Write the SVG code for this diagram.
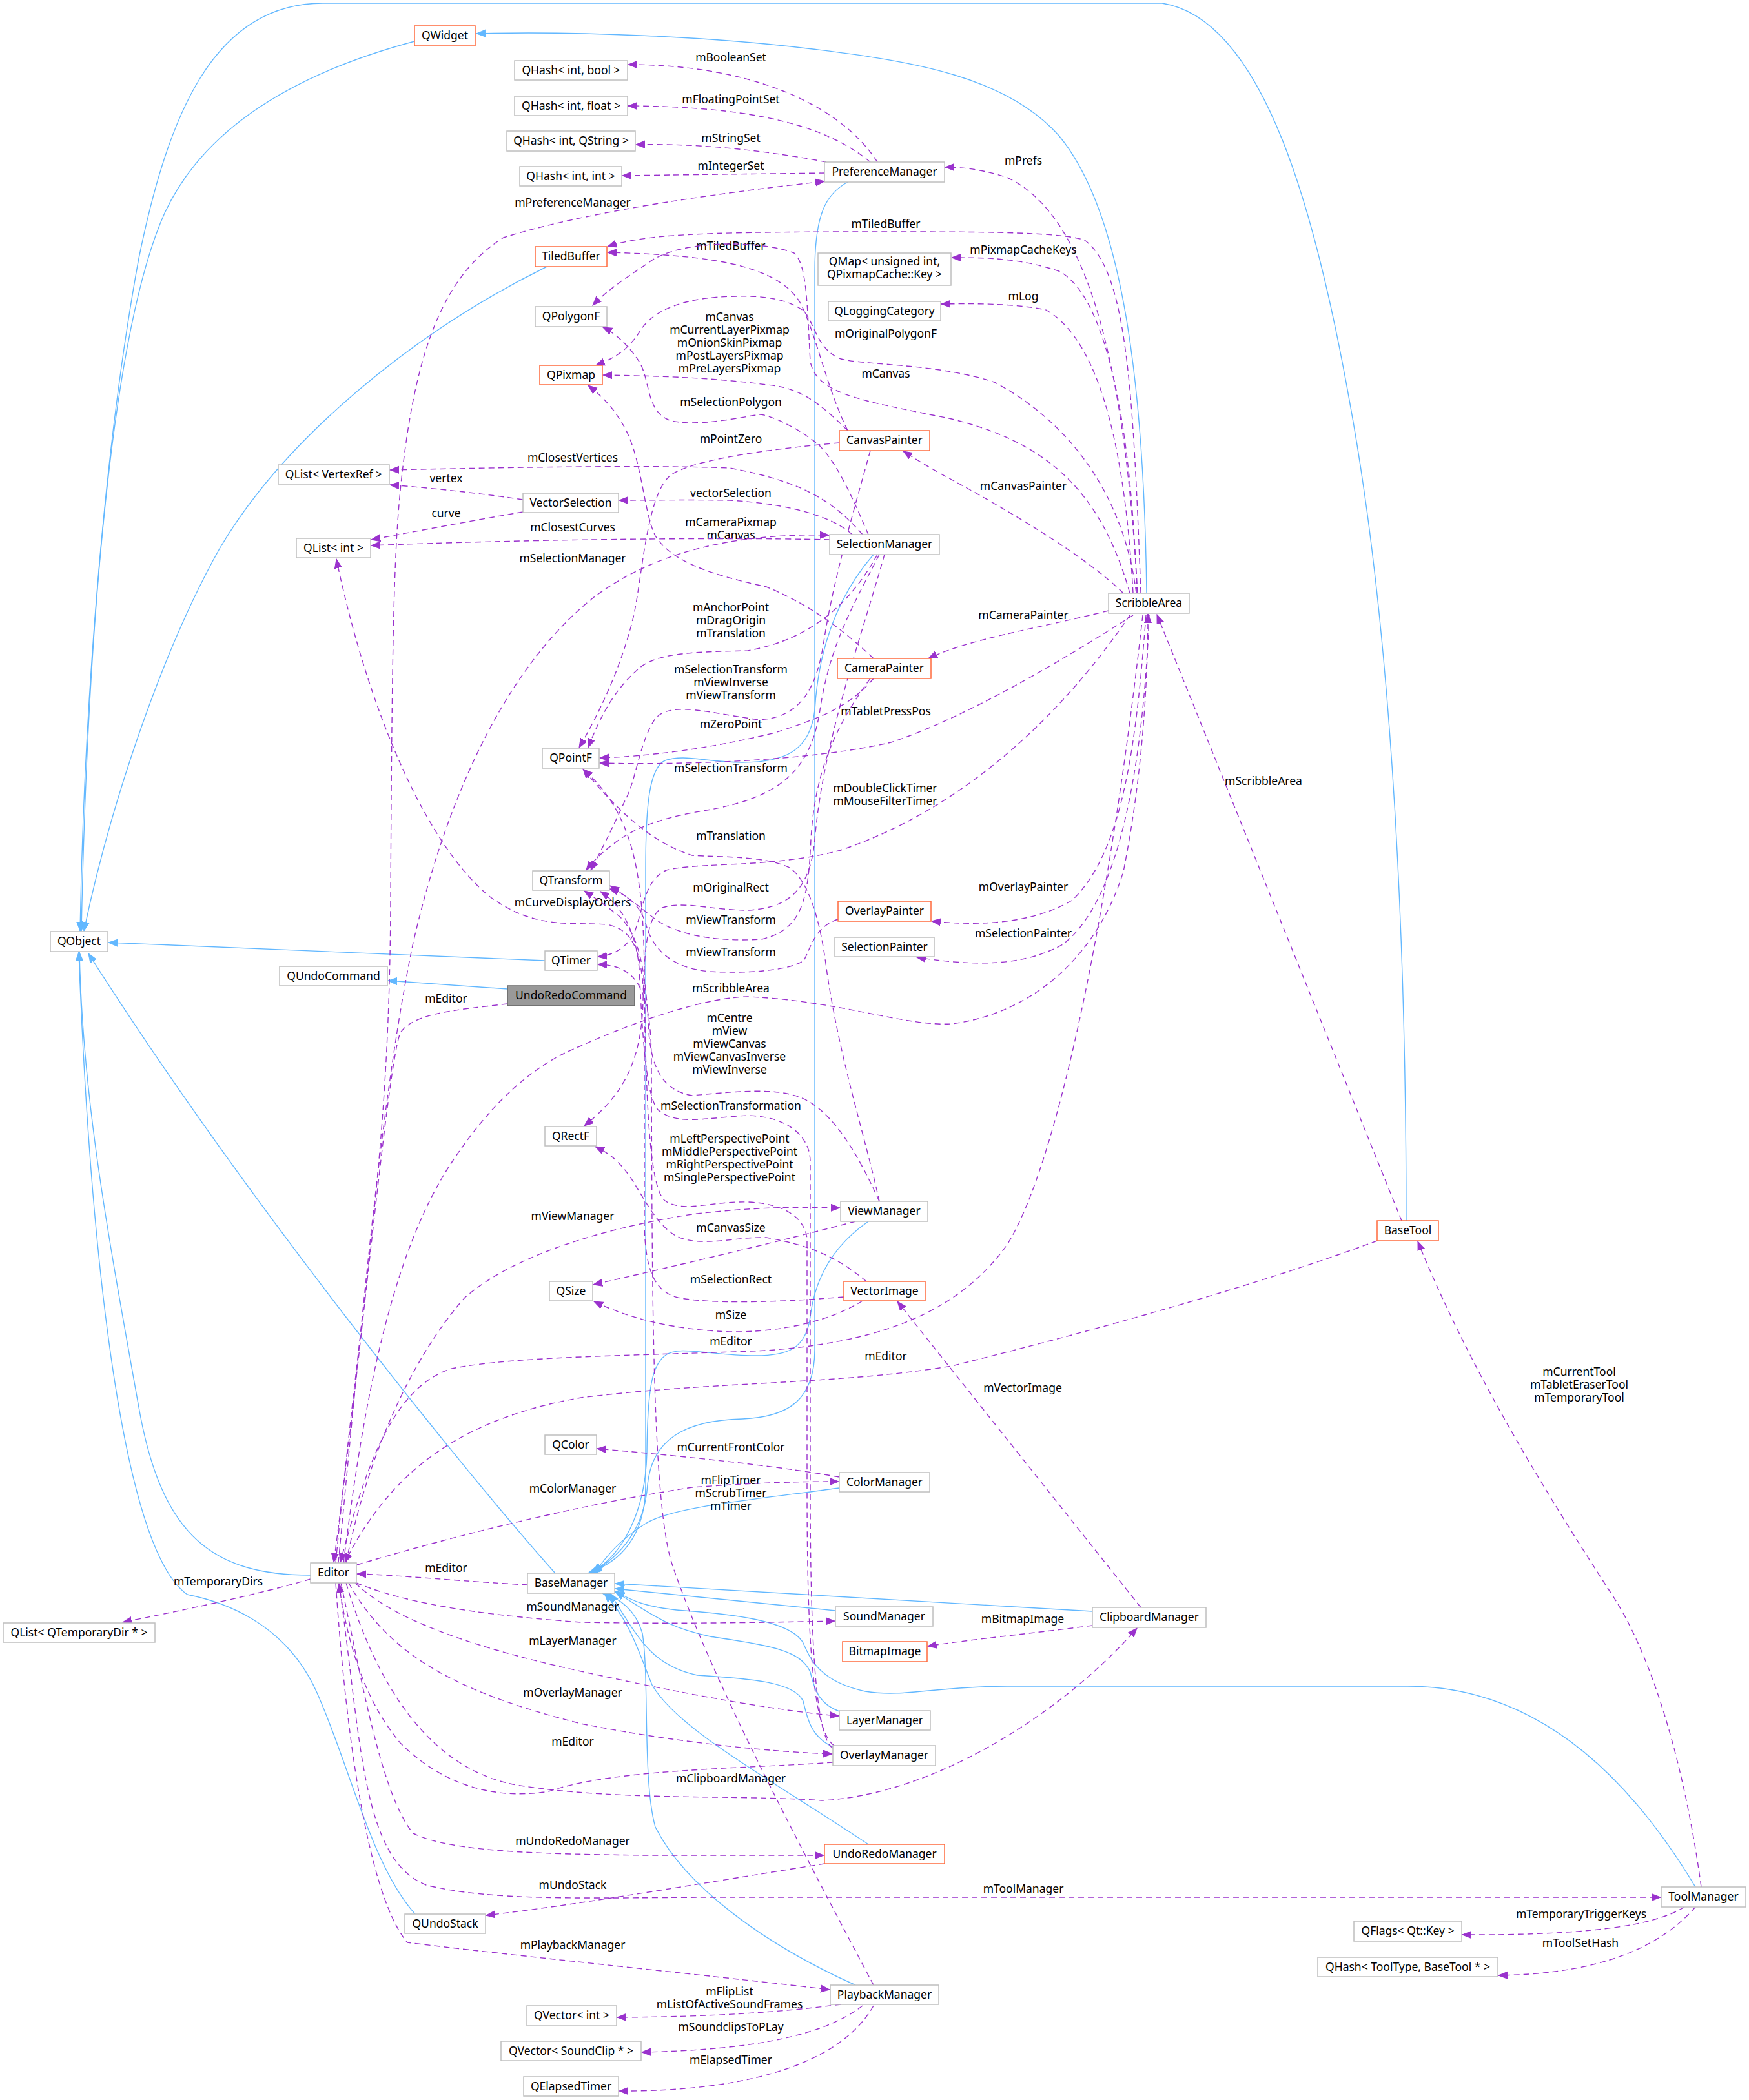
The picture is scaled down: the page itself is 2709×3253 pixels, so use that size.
<svg xmlns="http://www.w3.org/2000/svg" width="2709" height="3253" viewBox="0 0 2709 3253">
<style>
text{font-family:"Noto Sans","Liberation Sans",sans-serif;font-size:17.5px;fill:#000;text-anchor:middle}
.n rect{fill:#fff;stroke:#bfbfbf;stroke-width:1.5}
.n.t rect{stroke:#ff6a3d}
.n.m rect{fill:#999;stroke:#666}
.inh{fill:none;stroke:#63b8ff;stroke-width:1.4;marker-end:url(#ab)}
.use{fill:none;stroke:#9a32cd;stroke-width:1.4;stroke-dasharray:9,6;marker-end:url(#ap)}
</style>
<defs>
<marker id="ab" markerUnits="userSpaceOnUse" markerWidth="16" markerHeight="13" refX="14" refY="6" orient="auto"><path d="M0,0.5 L14,6 L0,11.5 z" fill="#63b8ff" stroke="#63b8ff" stroke-dasharray="none"/></marker>
<marker id="ap" markerUnits="userSpaceOnUse" markerWidth="16" markerHeight="13" refX="14" refY="6" orient="auto"><path d="M0,0.5 L14,6 L0,11.5 z" fill="#9a32cd" stroke="#9a32cd" stroke-dasharray="none"/></marker>
</defs>
<rect width="2709" height="3253" fill="#fff"/>
<g id="edges">
<!-- inheritance -->
<path class="inh" d="M642,64 C470,110 320,190 255,330 C170,520 135,1000 126,1442"/>
<path class="inh" d="M2178,1891 C2178,1500 2160,1000 2090,620 C2040,340 1960,30 1800,5 L500,5 C330,5 260,180 215,400 C160,700 130,1100 124,1442"/>
<path class="inh" d="M1776,919 C1772,600 1740,330 1640,210 C1560,120 1420,95 1250,75 C1100,57 900,48 738,52"/>
<path class="inh" d="M847,413 C640,515 440,680 340,850 C250,1010 170,1250 130,1442"/>
<path class="inh" d="M844,1488 L168,1460"/>
<path class="inh" d="M786,1532 L601,1519"/>
<path class="inh" d="M481,2440 C330,2440 250,2380 215,2180 C165,1900 128,1700 123,1475"/>
<path class="inh" d="M643,2965 C575,2890 540,2730 490,2620 C440,2510 340,2480 290,2470 C190,2400 140,1950 122,1475"/>
<path class="inh" d="M860,2437 C720,2280 380,1860 137,1477"/>
<path class="inh" d="M1313,282 C1280,300 1262,330 1262,420 L1262,2090 C1262,2170 1220,2195 1150,2198 C1060,2200 1010,2230 1003,2300 C998,2370 960,2410 918,2436"/>
<path class="inh" d="M1353,859 C1300,920 1268,1000 1262,1100 C1255,1160 1220,1181 1150,1181 C1090,1180 1060,1168 1030,1178 C1005,1190 1000,1250 1000,1350 L1000,2300 C1000,2380 960,2420 912,2436"/>
<path class="inh" d="M1345,1892 C1290,1930 1262,1980 1255,2040 C1248,2090 1220,2100 1170,2100 C1100,2100 1050,2083 1030,2100 C1010,2115 1003,2150 1002,2250 C1000,2340 965,2410 915,2436"/>
<path class="inh" d="M1300,2305 C1150,2325 1040,2335 1000,2360 C960,2385 940,2410 921,2436"/>
<path class="inh" d="M1294,2495 L953,2461"/>
<path class="inh" d="M1692,2496 L953,2453"/>
<path class="inh" d="M1300,2651 C1270,2640 1262,2620 1255,2590 C1240,2555 1190,2549 1100,2535 C1030,2520 1010,2500 953,2466"/>
<path class="inh" d="M1290,2706 C1255,2690 1250,2660 1244,2635 C1230,2605 1160,2600 1080,2595 C1010,2580 990,2540 945,2468"/>
<path class="inh" d="M2626,2923 C2540,2780 2400,2612 2180,2612 L1560,2612 C1450,2612 1400,2630 1340,2620 C1270,2605 1255,2570 1244,2545 C1225,2510 1130,2500 1060,2495 C1000,2490 980,2480 953,2465"/>
<path class="inh" d="M1345,2857 C1200,2760 1050,2680 1010,2610 C990,2560 975,2510 936,2468"/>
<path class="inh" d="M1325,3075 C1180,3010 1060,2920 1015,2830 C995,2760 1006,2600 995,2530 C985,2495 960,2475 933,2468"/>
<!-- usage -->
<g id="e_mBooleanSet"><path class="use" d="M1359,251 C1300,160 1160,100 973,100"/><text x="1132" y="95">mBooleanSet</text></g>
<g id="e_mFloatingPointSet"><path class="use" d="M1348,251 C1280,195 1170,165 973,164"/><text x="1132" y="160">mFloatingPointSet</text></g>
<g id="e_mStringSet"><path class="use" d="M1280,251 C1180,232 1080,222 985,224"/><text x="1132" y="220">mStringSet</text></g>
<g id="e_mIntegerSet"><path class="use" d="M1277,268 L964,272"/><text x="1132" y="263">mIntegerSet</text></g>
<g id="e_mPreferenceManager"><path class="use" d="M520,2421 C560,2000 603,1800 605,1400 C607,1000 610,860 620,760 C640,560 680,430 780,368 C900,330 1100,300 1277,281"/><text x="887" y="320">mPreferenceManager</text></g>
<g id="e_mPrefs"><path class="use" d="M1762,919 C1745,620 1700,340 1560,275 C1520,262 1490,259 1464,259"/><text x="1585" y="255">mPrefs</text></g>
<g id="e_mTiledBuffer1"><path class="use" d="M1767,919 C1755,600 1745,420 1680,372 C1640,358 1500,359 1300,359 C1100,360 1000,362 941,382"/><text x="1372" y="353">mTiledBuffer</text></g>
<g id="e_mTiledBuffer2"><path class="use" d="M1313,667 C1280,600 1265,520 1240,470 C1205,410 1100,395 941,391"/><text x="1132" y="387">mTiledBuffer</text></g>
<g id="e_mPixmapCacheKeys"><path class="use" d="M1761,919 C1750,600 1700,450 1640,420 C1580,400 1530,399 1474,399"/><text x="1585" y="393">mPixmapCacheKeys</text></g>
<g id="e_mLog"><path class="use" d="M1755,919 C1740,650 1690,520 1620,480 C1570,470 1510,470 1458,471"/><text x="1585" y="465">mLog</text></g>
<g id="e_mOriginalPolygonF"><path class="use" d="M1750,919 C1700,740 1600,680 1470,648 C1330,620 1265,610 1255,560 C1250,470 1250,410 1230,392 C1180,372 1050,370 1003,408 C970,430 940,450 918,473"/><text x="1372" y="523">mOriginalPolygonF</text></g>
<g id="e_mCanvasSA"><path class="use" d="M1760,919 C1740,760 1650,650 1540,592 C1450,562 1330,566 1300,555 C1265,540 1262,500 1244,481 C1215,460 1170,458 1141,459 C1060,460 1010,480 990,515 C970,545 950,555 923,566"/><text x="1372" y="585">mCanvas</text></g>
<g id="e_mCanvasCP"><path class="use" d="M1313,667 C1270,625 1240,600 1187,596 C1100,584 1000,582 934,581"/><text x="1130" y="497">mCanvas</text><text x="1130" y="517">mCurrentLayerPixmap</text><text x="1130" y="537">mOnionSkinPixmap</text><text x="1130" y="557">mPostLayersPixmap</text><text x="1130" y="577">mPreLayersPixmap</text></g>
<g id="e_mSelectionPolygon"><path class="use" d="M1345,828 C1320,770 1290,700 1256,680 C1230,660 1190,642 1176,642 C1130,650 1080,660 1040,652 C1000,640 1008,590 990,560 C970,530 950,515 934,507"/><text x="1132" y="629">mSelectionPolygon</text></g>
<g id="e_mPointZero"><path class="use" d="M1300,686 C1200,695 1080,710 1040,735 C1000,765 995,900 980,960 C960,1040 925,1110 897,1158"/><text x="1132" y="686">mPointZero</text></g>
<g id="e_mCanvasPainter"><path class="use" d="M1740,919 C1680,860 1560,790 1474,743 C1440,725 1420,712 1399,699"/><text x="1585" y="759">mCanvasPainter</text></g>
<g id="e_mClosestVertices"><path class="use" d="M1336,828 C1290,775 1240,745 1130,725 C1000,720 800,724 604,728"/><text x="887" y="715">mClosestVertices</text></g>
<g id="e_vectorSelection"><path class="use" d="M1320,828 C1290,800 1220,780 1130,775 C1060,774 1000,775 959,775"/><text x="1132" y="770">vectorSelection</text></g>
<g id="e_vertex"><path class="use" d="M810,774 C750,765 680,757 604,751"/><text x="691" y="747">vertex</text></g>
<g id="e_curve"><path class="use" d="M810,793 C740,805 660,820 575,836"/><text x="691" y="801">curve</text></g>
<g id="e_mCameraPixmap"><path class="use" d="M1353,1020 C1300,970 1250,935 1187,909 C1100,890 1040,870 1015,830 C995,790 995,700 960,650 C945,625 925,608 911,597"/><text x="1132" y="815">mCameraPixmap</text><text x="1132" y="835">mCanvas</text></g>
<g id="e_mClosestCurves"><path class="use" d="M1285,836 C1100,832 800,836 575,845"/><text x="887" y="823">mClosestCurves</text></g>
<g id="e_mSelectionManager"><path class="use" d="M524,2421 C560,2050 590,1700 640,1460 C700,1200 800,1020 920,925 C1020,850 1150,826 1284,829"/><text x="887" y="871">mSelectionManager</text></g>
<g id="e_mAnchorPoint"><path class="use" d="M1359,859 C1320,930 1260,990 1158,1008 C1080,1010 1020,1010 990,1035 C950,1070 930,1110 911,1158"/><text x="1132" y="947">mAnchorPoint</text><text x="1132" y="967">mDragOrigin</text><text x="1132" y="987">mTranslation</text></g>
<g id="e_mCameraPainter"><path class="use" d="M1717,946 C1600,975 1500,990 1438,1020"/><text x="1585" y="959">mCameraPainter</text></g>
<g id="e_mSelectionTransformCP"><path class="use" d="M1348,698 C1320,800 1290,900 1275,1000 C1262,1080 1230,1112 1176,1115 C1100,1105 1040,1085 1015,1113 C990,1150 985,1210 969,1238 C950,1280 930,1320 915,1348"/><text x="1132" y="1043">mSelectionTransform</text><text x="1132" y="1063">mViewInverse</text><text x="1132" y="1083">mViewTransform</text></g>
<g id="e_mTabletPressPos"><path class="use" d="M1755,953 C1650,1020 1500,1110 1380,1150 C1250,1180 1050,1185 929,1182"/><text x="1372" y="1108">mTabletPressPos</text></g>
<g id="e_mZeroPoint"><path class="use" d="M1353,1051 C1320,1090 1280,1110 1200,1135 C1100,1160 1000,1172 929,1174"/><text x="1132" y="1128">mZeroPoint</text></g>
<g id="e_mSelectionTransformSM"><path class="use" d="M1362,859 C1320,940 1285,1000 1270,1100 C1255,1200 1200,1235 1101,1254 C1030,1265 990,1280 960,1300 C935,1318 920,1332 908,1348"/><text x="1132" y="1196">mSelectionTransform</text></g>
<g id="e_mScribbleAreaBT"><path class="use" d="M2171,1891 L1792,952"/><text x="1957" y="1216">mScribbleArea</text></g>
<g id="e_mDoubleClickTimer"><path class="use" d="M1750,953 C1650,1100 1500,1250 1302,1317 C1200,1345 1080,1335 1032,1348 C995,1365 995,1420 980,1450 C965,1472 947,1480 926,1482"/><text x="1371" y="1227">mDoubleClickTimer</text><text x="1371" y="1247">mMouseFilterTimer</text></g>
<g id="e_mTranslationVM"><path class="use" d="M1362,1861 C1340,1760 1300,1640 1280,1500 C1270,1420 1250,1360 1221,1343 C1180,1325 1110,1328 1072,1325 C1010,1305 960,1260 903,1191"/><text x="1132" y="1301">mTranslation</text></g>
<g id="e_mOverlayPainter"><path class="use" d="M1775,953 C1760,1150 1740,1320 1660,1395 C1600,1430 1520,1435 1443,1427"/><text x="1585" y="1380">mOverlayPainter</text></g>
<g id="e_mOriginalRect"><path class="use" d="M1370,859 C1330,1000 1275,1150 1262,1300 C1255,1380 1220,1406 1160,1410 C1100,1410 1060,1395 1026,1406 C1000,1420 998,1480 996,1550 C994,1650 960,1700 905,1744"/><text x="1132" y="1381">mOriginalRect</text></g>
<g id="e_mCurveDisplayOrders"><path class="use" d="M1307,2009 C1200,2018 1100,2020 1050,2010 C1010,2000 1000,1960 998,1900 L998,1560 C995,1470 980,1440 940,1432 C880,1428 830,1440 760,1390 C660,1310 570,1100 521,866"/><text x="887" y="1404">mCurveDisplayOrders</text></g>
<g id="e_mViewTransformCam"><path class="use" d="M1348,1051 C1290,1130 1262,1200 1256,1300 C1252,1400 1240,1440 1180,1455 C1100,1460 1040,1445 1010,1420 C985,1400 965,1385 945,1372"/><text x="1132" y="1431">mViewTransform</text></g>
<g id="e_mSelectionPainter"><path class="use" d="M1780,953 C1770,1200 1730,1400 1646,1463 C1580,1500 1500,1495 1420,1483"/><text x="1585" y="1452">mSelectionPainter</text></g>
<g id="e_mViewTransformOP"><path class="use" d="M1298,1424 C1262,1435 1255,1470 1245,1488 C1220,1505 1150,1508 1100,1505 C1040,1500 1010,1470 1000,1430 C990,1400 970,1385 944,1377"/><text x="1132" y="1481">mViewTransform</text></g>
<g id="e_mScribbleAreaED"><path class="use" d="M532,2421 C560,2200 600,1950 700,1800 C780,1680 850,1640 900,1620 C1000,1575 1100,1545 1158,1544 C1300,1550 1400,1590 1474,1586 C1600,1570 1700,1480 1740,1350 C1770,1200 1778,1050 1778,951"/><text x="1132" y="1537">mScribbleArea</text></g>
<g id="e_mEditorURC"><path class="use" d="M786,1555 C700,1565 640,1570 620,1600 C600,1650 560,2100 517,2420"/><text x="691" y="1553">mEditor</text></g>
<g id="e_mCentre"><path class="use" d="M1362,1861 C1330,1790 1290,1720 1240,1700 C1200,1685 1150,1690 1072,1697 C1030,1690 1010,1660 1005,1600 C1000,1500 990,1450 960,1420 C935,1400 920,1390 905,1380"/><text x="1130" y="1583">mCentre</text><text x="1130" y="1603">mView</text><text x="1130" y="1623">mViewCanvas</text><text x="1130" y="1643">mViewCanvasInverse</text><text x="1130" y="1663">mViewInverse</text></g>
<g id="e_mSelectionTransformation"><path class="use" d="M1290,2708 C1260,2690 1255,2500 1255,2300 L1255,1800 C1255,1760 1220,1730 1160,1728 C1100,1730 1050,1745 1020,1720 C1000,1700 995,1600 990,1500 C985,1440 960,1400 930,1381"/><text x="1132" y="1719">mSelectionTransformation</text></g>
<g id="e_mPerspective"><path class="use" d="M1292,2704 C1255,2680 1250,2500 1250,2300 L1250,1920 C1248,1890 1220,1865 1160,1862 C1100,1860 1060,1880 1030,1860 C1005,1840 1000,1700 998,1500 C996,1350 980,1260 904,1192"/><text x="1130" y="1770">mLeftPerspectivePoint</text><text x="1130" y="1790">mMiddlePerspectivePoint</text><text x="1130" y="1810">mRightPerspectivePoint</text><text x="1130" y="1830">mSinglePerspectivePoint</text></g>
<g id="e_mViewManager"><path class="use" d="M536,2421 C570,2250 640,2100 720,2010 C800,1940 950,1900 1072,1881 C1180,1868 1250,1870 1301,1871"/><text x="887" y="1890">mViewManager</text></g>
<g id="e_mCanvasSize"><path class="use" d="M1325,1892 C1200,1925 1050,1960 919,1990"/><text x="1132" y="1908">mCanvasSize</text></g>
<g id="e_mSelectionRect"><path class="use" d="M1342,1985 C1300,1950 1260,1930 1187,1917 C1140,1915 1080,1935 1043,1912 C1010,1890 990,1840 970,1815 C955,1795 940,1785 922,1776"/><text x="1132" y="1988">mSelectionRect</text></g>
<g id="e_mSize"><path class="use" d="M1336,2015 C1280,2050 1200,2064 1130,2063 C1050,2060 980,2045 920,2016"/><text x="1132" y="2043">mSize</text></g>
<g id="e_mEditorSA"><path class="use" d="M1770,953 C1720,1400 1640,1800 1560,1928 C1480,2040 1350,2080 1187,2092 C1000,2100 800,2100 700,2120 C600,2150 560,2300 527,2420"/><text x="1132" y="2084">mEditor</text></g>
<g id="e_mEditorBT"><path class="use" d="M2133,1922 C1950,1990 1700,2060 1474,2116 C1300,2145 1100,2140 900,2165 C700,2200 600,2290 534,2420"/><text x="1372" y="2107">mEditor</text></g>
<g id="e_mCurrentTool"><path class="use" d="M2635,2923 C2610,2740 2560,2560 2490,2460 C2400,2320 2280,2130 2196,1923"/><text x="2446" y="2131">mCurrentTool</text><text x="2446" y="2151">mTabletEraserTool</text><text x="2446" y="2171">mTemporaryTool</text></g>
<g id="e_mVectorImage"><path class="use" d="M1767,2490 L1390,2016"/><text x="1584" y="2156">mVectorImage</text></g>
<g id="e_mCurrentFrontColor"><path class="use" d="M1300,2288 C1200,2270 1050,2255 925,2244"/><text x="1132" y="2248">mCurrentFrontColor</text></g>
<g id="e_mFlipTimer"><path class="use" d="M1353,3075 C1250,2880 1100,2600 1040,2420 C1010,2320 1010,2000 1009,1640 C1008,1530 985,1495 926,1494"/><text x="1132" y="2299">mFlipTimer</text><text x="1132" y="2319">mScrubTimer</text><text x="1132" y="2339">mTimer</text></g>
<g id="e_mColorManager"><path class="use" d="M553,2424 C700,2380 900,2330 1072,2304 C1180,2296 1250,2295 1299,2295"/><text x="887" y="2312">mColorManager</text></g>
<g id="e_mEditorBM"><path class="use" d="M817,2455 C720,2450 620,2440 553,2438"/><text x="691" y="2435">mEditor</text></g>
<g id="e_mTemporaryDirs"><path class="use" d="M481,2446 C400,2470 280,2495 190,2513"/><text x="338" y="2456">mTemporaryDirs</text></g>
<g id="e_mSoundManager"><path class="use" d="M552,2452 C620,2480 720,2500 900,2513 C1050,2516 1200,2513 1293,2511"/><text x="887" y="2495">mSoundManager</text></g>
<g id="e_mBitmapImage"><path class="use" d="M1692,2518 C1600,2530 1500,2540 1437,2550"/><text x="1584" y="2514">mBitmapImage</text></g>
<g id="e_mLayerManager"><path class="use" d="M550,2452 C600,2500 700,2545 900,2589 C1050,2622 1200,2650 1299,2658"/><text x="887" y="2548">mLayerManager</text></g>
<g id="e_mOverlayManager"><path class="use" d="M540,2452 C600,2560 700,2620 900,2670 C1050,2700 1200,2714 1289,2717"/><text x="887" y="2628">mOverlayManager</text></g>
<g id="e_mEditorOM"><path class="use" d="M1290,2730 C1150,2740 950,2740 850,2775 C760,2790 680,2760 620,2700 C570,2640 540,2560 525,2453"/><text x="887" y="2704">mEditor</text></g>
<g id="e_mClipboardManager"><path class="use" d="M536,2452 C580,2600 660,2740 800,2765 C950,2790 1150,2780 1273,2789 C1450,2780 1650,2650 1761,2522"/><text x="1132" y="2761">mClipboardManager</text></g>
<g id="e_mUndoRedoManager"><path class="use" d="M528,2452 C560,2600 590,2780 640,2840 C700,2870 850,2872 1000,2874 L1276,2874"/><text x="887" y="2858">mUndoRedoManager</text></g>
<g id="e_mUndoStack"><path class="use" d="M1277,2887 C1100,2915 900,2950 753,2967"/><text x="887" y="2926">mUndoStack</text></g>
<g id="e_mToolManager"><path class="use" d="M525,2452 C560,2700 560,2880 660,2920 C760,2945 900,2940 1100,2939 L2572,2939"/><text x="1585" y="2932">mToolManager</text></g>
<g id="e_mTemporaryTriggerKeys"><path class="use" d="M2609,2954 C2560,2985 2450,2998 2265,2997"/><text x="2449" y="2971">mTemporaryTriggerKeys</text></g>
<g id="e_mPlaybackManager"><path class="use" d="M520,2452 C540,2750 580,2950 631,3009 C800,3030 1100,3060 1285,3082"/><text x="887" y="3019">mPlaybackManager</text></g>
<g id="e_mToolSetHash"><path class="use" d="M2626,2954 C2560,3030 2450,3058 2321,3060"/><text x="2448" y="3016">mToolSetHash</text></g>
<g id="e_mFlipList"><path class="use" d="M1302,3105 C1200,3118 1100,3124 956,3125"/><text x="1130" y="3091">mFlipList</text><text x="1130" y="3111">mListOfActiveSoundFrames</text></g>
<g id="e_mSoundclipsToPLay"><path class="use" d="M1336,3107 C1280,3150 1180,3175 994,3179"/><text x="1132" y="3146">mSoundclipsToPLay</text></g>
<g id="e_mElapsedTimer"><path class="use" d="M1353,3107 C1300,3200 1150,3240 959,3239"/><text x="1132" y="3197">mElapsedTimer</text></g>
</g>
<g id="nodes">
<g id="QWidget" class="n t"><rect x="642" y="40" width="94" height="31"/><text x="689" y="61">QWidget</text></g>
<g id="QHash_int_bool" class="n"><rect x="797" y="94" width="175" height="30"/><text x="884.5" y="115">QHash&lt; int, bool &gt;</text></g>
<g id="QHash_int_float" class="n"><rect x="797" y="149" width="175" height="30"/><text x="884.5" y="170">QHash&lt; int, float &gt;</text></g>
<g id="QHash_int_QString" class="n"><rect x="785" y="203" width="199" height="31"/><text x="884.5" y="224">QHash&lt; int, QString &gt;</text></g>
<g id="QHash_int_int" class="n"><rect x="805" y="258" width="158" height="30"/><text x="884" y="279">QHash&lt; int, int &gt;</text></g>
<g id="PreferenceManager" class="n"><rect x="1277" y="251" width="186" height="31"/><text x="1370" y="272">PreferenceManager</text></g>
<g id="TiledBuffer" class="n t"><rect x="829" y="382" width="111" height="31"/><text x="884.5" y="403">TiledBuffer</text></g>
<g id="QMap" class="n"><rect x="1267" y="392" width="206" height="50"/><text x="1370" y="411">QMap&lt; unsigned int,</text><text x="1370" y="431">QPixmapCache::Key &gt;</text></g>
<g id="QPolygonF" class="n"><rect x="829" y="475" width="111" height="31"/><text x="884.5" y="496">QPolygonF</text></g>
<g id="QLoggingCategory" class="n"><rect x="1283" y="467" width="174" height="30"/><text x="1370" y="488">QLoggingCategory</text></g>
<g id="QPixmap" class="n t"><rect x="836" y="566" width="97" height="30"/><text x="884.5" y="587">QPixmap</text></g>
<g id="CanvasPainter" class="n t"><rect x="1300" y="667" width="140" height="31"/><text x="1370" y="688">CanvasPainter</text></g>
<g id="QList_VertexRef" class="n"><rect x="431" y="720" width="172" height="30"/><text x="517" y="741">QList&lt; VertexRef &gt;</text></g>
<g id="VectorSelection" class="n"><rect x="810" y="764" width="148" height="30"/><text x="884" y="785">VectorSelection</text></g>
<g id="QList_int" class="n"><rect x="459" y="834" width="115" height="30"/><text x="516.5" y="855">QList&lt; int &gt;</text></g>
<g id="SelectionManager" class="n"><rect x="1285" y="828" width="170" height="31"/><text x="1370" y="849">SelectionManager</text></g>
<g id="ScribbleArea" class="n"><rect x="1717" y="919" width="125" height="31"/><text x="1779.5" y="940">ScribbleArea</text></g>
<g id="CameraPainter" class="n t"><rect x="1297" y="1020" width="145" height="31"/><text x="1369.5" y="1041">CameraPainter</text></g>
<g id="QPointF" class="n"><rect x="840" y="1159" width="88" height="31"/><text x="884" y="1180">QPointF</text></g>
<g id="QTransform" class="n"><rect x="825" y="1349" width="119" height="30"/><text x="884.5" y="1370">QTransform</text></g>
<g id="OverlayPainter" class="n t"><rect x="1298" y="1396" width="144" height="31"/><text x="1370" y="1417">OverlayPainter</text></g>
<g id="QObject" class="n"><rect x="78" y="1443" width="89" height="31"/><text x="122.5" y="1464">QObject</text></g>
<g id="SelectionPainter" class="n"><rect x="1293" y="1452" width="154" height="30"/><text x="1370" y="1473">SelectionPainter</text></g>
<g id="QTimer" class="n"><rect x="844" y="1473" width="81" height="30"/><text x="884.5" y="1494">QTimer</text></g>
<g id="QUndoCommand" class="n"><rect x="433" y="1497" width="167" height="30"/><text x="516.5" y="1518">QUndoCommand</text></g>
<g id="UndoRedoCommand" class="n m"><rect x="786" y="1527" width="197" height="31"/><text x="884.5" y="1548">UndoRedoCommand</text></g>
<g id="QRectF" class="n"><rect x="844" y="1745" width="80" height="30"/><text x="884" y="1766">QRectF</text></g>
<g id="ViewManager" class="n"><rect x="1302" y="1861" width="135" height="31"/><text x="1369.5" y="1882">ViewManager</text></g>
<g id="BaseTool" class="n t"><rect x="2133" y="1891" width="95" height="31"/><text x="2180.5" y="1912">BaseTool</text></g>
<g id="QSize" class="n"><rect x="851" y="1985" width="67" height="30"/><text x="884.5" y="2006">QSize</text></g>
<g id="VectorImage" class="n t"><rect x="1307" y="1985" width="126" height="30"/><text x="1370" y="2006">VectorImage</text></g>
<g id="QColor" class="n"><rect x="844" y="2223" width="80" height="30"/><text x="884" y="2244">QColor</text></g>
<g id="ColorManager" class="n"><rect x="1300" y="2281" width="140" height="30"/><text x="1370" y="2302">ColorManager</text></g>
<g id="Editor" class="n"><rect x="481" y="2421" width="71" height="31"/><text x="516.5" y="2442">Editor</text></g>
<g id="BaseManager" class="n"><rect x="817" y="2437" width="135" height="31"/><text x="884.5" y="2458">BaseManager</text></g>
<g id="SoundManager" class="n"><rect x="1294" y="2489" width="151" height="30"/><text x="1369.5" y="2510">SoundManager</text></g>
<g id="ClipboardManager" class="n"><rect x="1692" y="2490" width="176" height="31"/><text x="1780" y="2511">ClipboardManager</text></g>
<g id="QList_QTemporaryDir" class="n"><rect x="5" y="2514" width="235" height="30"/><text x="122.5" y="2535">QList&lt; QTemporaryDir * &gt;</text></g>
<g id="BitmapImage" class="n t"><rect x="1305" y="2543" width="131" height="31"/><text x="1370.5" y="2564">BitmapImage</text></g>
<g id="LayerManager" class="n"><rect x="1300" y="2650" width="141" height="30"/><text x="1370.5" y="2671">LayerManager</text></g>
<g id="OverlayManager" class="n"><rect x="1290" y="2704" width="159" height="31"/><text x="1369.5" y="2725">OverlayManager</text></g>
<g id="UndoRedoManager" class="n t"><rect x="1277" y="2857" width="186" height="30"/><text x="1370" y="2878">UndoRedoManager</text></g>
<g id="ToolManager" class="n"><rect x="2573" y="2923" width="131" height="31"/><text x="2638.5" y="2944">ToolManager</text></g>
<g id="QUndoStack" class="n"><rect x="627" y="2965" width="125" height="30"/><text x="689.5" y="2986">QUndoStack</text></g>
<g id="QFlags_Qt_Key" class="n"><rect x="2097" y="2976" width="167" height="31"/><text x="2180.5" y="2997">QFlags&lt; Qt::Key &gt;</text></g>
<g id="QHash_ToolType_BaseTool" class="n"><rect x="2041" y="3032" width="279" height="30"/><text x="2180.5" y="3053">QHash&lt; ToolType, BaseTool * &gt;</text></g>
<g id="PlaybackManager" class="n"><rect x="1286" y="3075" width="168" height="30"/><text x="1370" y="3096">PlaybackManager</text></g>
<g id="QVector_int" class="n"><rect x="816" y="3107" width="139" height="31"/><text x="885.5" y="3128">QVector&lt; int &gt;</text></g>
<g id="QVector_SoundClip" class="n"><rect x="776" y="3162" width="217" height="30"/><text x="884.5" y="3183">QVector&lt; SoundClip * &gt;</text></g>
<g id="QElapsedTimer" class="n"><rect x="811" y="3217" width="147" height="30"/><text x="884.5" y="3238">QElapsedTimer</text></g>
</g>
</svg>
